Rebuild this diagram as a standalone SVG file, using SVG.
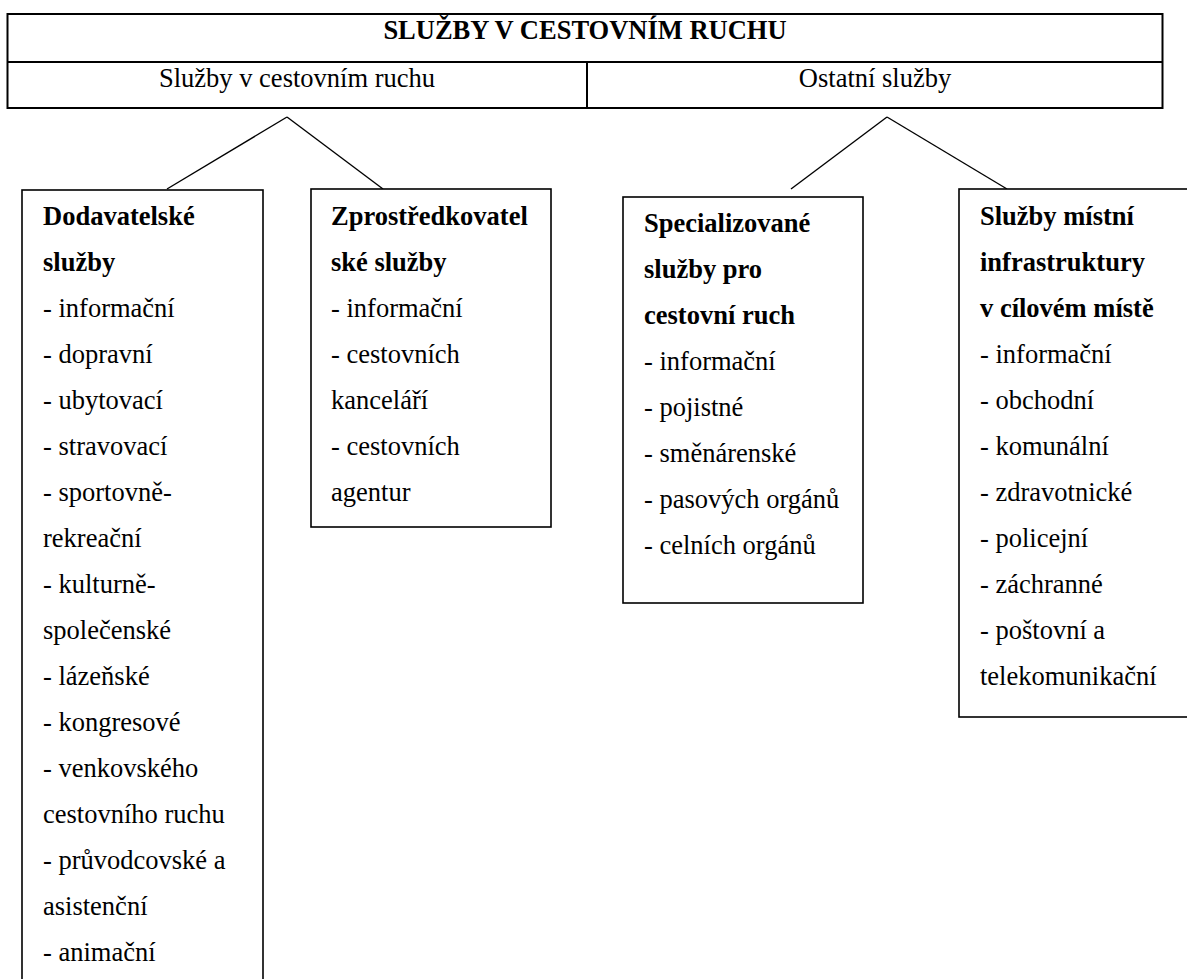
<svg xmlns="http://www.w3.org/2000/svg" width="1187" height="979" viewBox="0 0 1187 979">
<style>
text{font-family:"Liberation Serif","Times New Roman",serif;font-size:26.5px;fill:#000}
.b{font-weight:bold}
.c{text-anchor:middle}
.box{fill:#fff;stroke:#000;stroke-width:1.6}
.hdr{fill:#fff;stroke:#000;stroke-width:2}
.con line{stroke:#000;stroke-width:1.4}
</style>
<rect width="1187" height="979" fill="#fff"/>
<g id="header">
<rect class="hdr" x="7.5" y="14" width="1155" height="94"/>
<line x1="7.5" y1="62" x2="1162.5" y2="62" stroke="#000" stroke-width="2"/>
<line x1="587" y1="62" x2="587" y2="108" stroke="#000" stroke-width="2"/>
<text class="b c" x="585" y="39">SLUŽBY V CESTOVNÍM RUCHU</text>
<text class="c" x="297" y="87">Služby v cestovním ruchu</text>
<text class="c" x="875" y="87">Ostatní služby</text>
</g>
<g id="connectors" class="con">
<line x1="287" y1="117" x2="167" y2="189"/>
<line x1="287" y1="117" x2="383" y2="189"/>
<line x1="887" y1="117" x2="791" y2="189"/>
<line x1="887" y1="117" x2="1007" y2="189"/>
</g>
<g id="dodavatelske">
<rect class="box" x="22" y="190" width="241" height="800"/>
<text class="b" x="43" y="225">Dodavatelské</text>
<text class="b" x="43" y="271">služby</text>
<text x="43" y="317">- informační</text>
<text x="43" y="363">- dopravní</text>
<text x="43" y="409">- ubytovací</text>
<text x="43" y="455">- stravovací</text>
<text x="43" y="501">- sportovně-</text>
<text x="43" y="547">rekreační</text>
<text x="43" y="593">- kulturně-</text>
<text x="43" y="639">společenské</text>
<text x="43" y="685">- lázeňské</text>
<text x="43" y="731">- kongresové</text>
<text x="43" y="777">- venkovského</text>
<text x="43" y="823">cestovního ruchu</text>
<text x="43" y="869">- průvodcovské a</text>
<text x="43" y="915">asistenční</text>
<text x="43" y="961">- animační</text>
</g>
<g id="zprostredkovatelske">
<rect class="box" x="311" y="189" width="240" height="338"/>
<text class="b" x="331" y="225">Zprostředkovatel</text>
<text class="b" x="331" y="271">ské služby</text>
<text x="331" y="317">- informační</text>
<text x="331" y="363">- cestovních</text>
<text x="331" y="409">kanceláří</text>
<text x="331" y="455">- cestovních</text>
<text x="331" y="501">agentur</text>
</g>
<g id="specializovane">
<rect class="box" x="623" y="197" width="240" height="406"/>
<text class="b" x="644" y="232">Specializované</text>
<text class="b" x="644" y="278">služby pro</text>
<text class="b" x="644" y="324">cestovní ruch</text>
<text x="644" y="370">- informační</text>
<text x="644" y="416">- pojistné</text>
<text x="644" y="462">- směnárenské</text>
<text x="644" y="508">- pasových orgánů</text>
<text x="644" y="554">- celních orgánů</text>
</g>
<g id="mistni">
<rect class="box" x="959" y="189" width="240" height="528"/>
<text class="b" x="980" y="225">Služby místní</text>
<text class="b" x="980" y="271">infrastruktury</text>
<text class="b" x="980" y="317">v cílovém místě</text>
<text x="980" y="363">- informační</text>
<text x="980" y="409">- obchodní</text>
<text x="980" y="455">- komunální</text>
<text x="980" y="501">- zdravotnické</text>
<text x="980" y="547">- policejní</text>
<text x="980" y="593">- záchranné</text>
<text x="980" y="639">- poštovní a</text>
<text x="980" y="685">telekomunikační</text>
</g>
</svg>
